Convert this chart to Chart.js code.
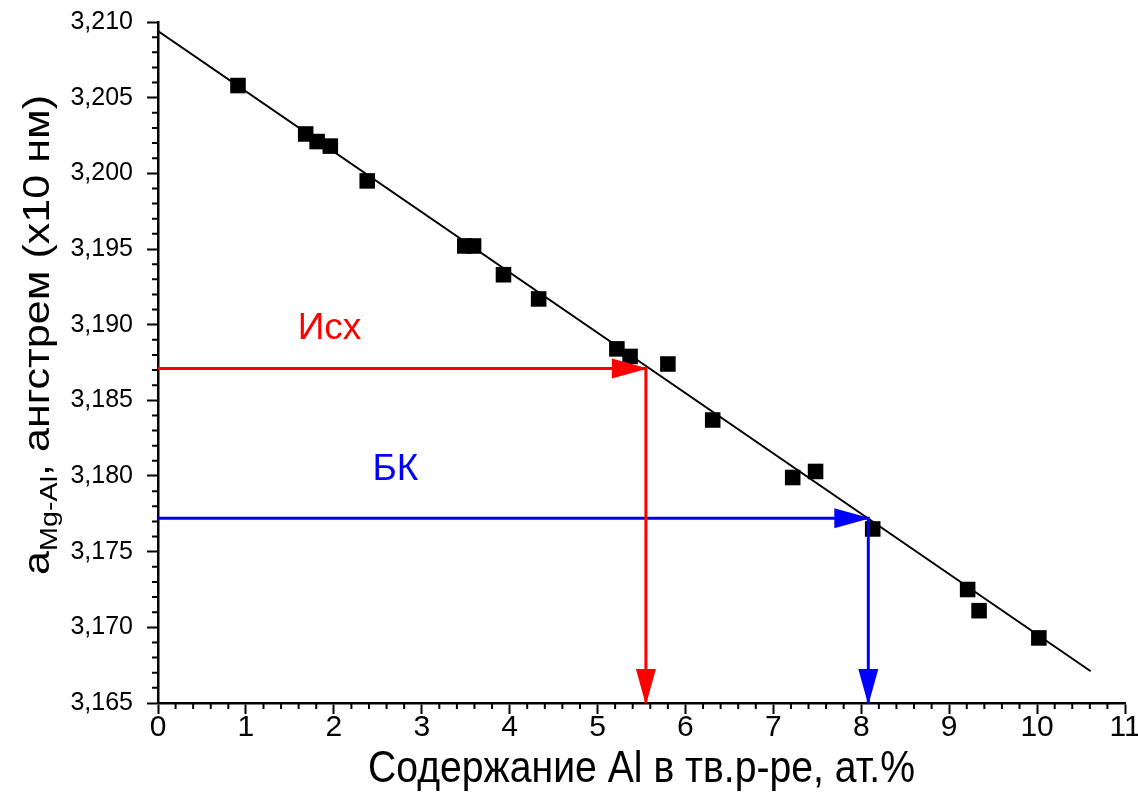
<!DOCTYPE html>
<html>
<head>
<meta charset="utf-8">
<script src="https://cdn.jsdelivr.net/npm/chart.js@4.4.1/dist/chart.umd.min.js"></script>
<style>
  html, body { margin: 0; padding: 0; background: #fff; }
  #wrap { width: 1138px; height: 809px; }
</style>
</head>
<body>
<div id="wrap"><canvas id="chart"></canvas></div>
<script>
// measured points: Al content in solid solution (at.%) and lattice parameter a
const alContent = [0.91, 1.68, 1.81, 1.96, 2.38, 3.49, 3.59, 3.93, 4.33, 5.22, 5.37, 5.80, 6.31, 7.22, 7.48, 8.13, 9.21, 9.34, 10.02];
const latticeA = [3.2058, 3.2026, 3.2021, 3.2018, 3.1995, 3.1952, 3.1952, 3.1933, 3.1917, 3.1884, 3.1879, 3.1874, 3.1837, 3.1799, 3.1803, 3.1765, 3.1725, 3.1711, 3.1693];

// linear fit, end points
const fitX = [0, 10.61];
const fitY = [3.2094, 3.1671];

// reading arrows (Исх = initial, БК = after treatment)
const ishX = [0, 5.55, 5.55];
const ishY = [3.1871, 3.1871, 3.165];
const bkX = [0, 8.08, 8.08];
const bkY = [3.1772, 3.1772, 3.165];

// tick labels
const xTicks = [0, 1, 2, 3, 4, 5, 6, 7, 8, 9, 10, 11];
const yTicks = [3.165, 3.170, 3.175, 3.180, 3.185, 3.190, 3.195, 3.200, 3.205, 3.210];
const xMinorStep = 0.2;
const yMinorStep = 0.001;

// text labels next to the arrows
const ishLabel = { text: "Исх", x: 1.95, y: 3.1897 };
const bkLabel = { text: "БК", x: 2.70, y: 3.1804 };
const xTitle = "Содержание Al в тв.р-ре, ат.%";

const toPoints = (xs, ys) => xs.map((x, i) => ({ x: x, y: ys[i] }));

// minor ticks, drawn outside the axes like major ones
const minorTicks = {
  id: "minorTicks",
  afterDraw(chart) {
    const ctx = chart.ctx;
    const xs = chart.scales.x;
    const ys = chart.scales.y;
    ctx.save();
    ctx.strokeStyle = "#000";
    ctx.lineWidth = 2;
    ctx.beginPath();
    const nx = Math.round((xs.max - xs.min) / xMinorStep);
    for (let i = 1; i < nx; i++) {
      if (i % 5 === 0) continue;
      const px = xs.getPixelForValue(xs.min + i * xMinorStep);
      ctx.moveTo(px, xs.top);
      ctx.lineTo(px, xs.top + 6);
    }
    const ny = Math.round((ys.max - ys.min) / yMinorStep);
    for (let i = 1; i < ny; i++) {
      if (i % 5 === 0) continue;
      const py = ys.getPixelForValue(ys.min + i * yMinorStep);
      ctx.moveTo(ys.right, py);
      ctx.lineTo(ys.right - 6, py);
    }
    ctx.stroke();
    ctx.restore();
  },
};

// arrow heads at the end of every segment of the arrow datasets
const arrowHeads = {
  id: "arrowHeads",
  afterDatasetsDraw(chart) {
    const ctx = chart.ctx;
    chart.data.datasets.forEach((ds, di) => {
      if (!ds.arrow) return;
      const pts = chart.getDatasetMeta(di).data;
      for (let i = 1; i < pts.length; i++) {
        const a = pts[i - 1];
        const b = pts[i];
        const ang = Math.atan2(b.y - a.y, b.x - a.x);
        ctx.save();
        ctx.translate(b.x, b.y);
        ctx.rotate(ang);
        ctx.fillStyle = ds.borderColor;
        ctx.beginPath();
        ctx.moveTo(2, 0);
        ctx.lineTo(-34, -10);
        ctx.lineTo(-34, 10);
        ctx.closePath();
        ctx.fill();
        ctx.restore();
      }
    });
  },
};

// "Исх" / "БК" labels and the axis titles (slightly condensed like the original)
const texts = {
  id: "texts",
  afterDraw(chart) {
    const ctx = chart.ctx;
    const xs = chart.scales.x;
    const ys = chart.scales.y;
    ctx.save();
    ctx.font = "37px 'Liberation Sans', Arial, sans-serif";
    ctx.textAlign = "center";
    ctx.textBaseline = "middle";
    ctx.fillStyle = "#ff0000";
    ctx.fillText(ishLabel.text, xs.getPixelForValue(ishLabel.x), ys.getPixelForValue(ishLabel.y));
    ctx.fillStyle = "#0000ff";
    ctx.fillText(bkLabel.text, xs.getPixelForValue(bkLabel.x), ys.getPixelForValue(bkLabel.y));
    ctx.restore();

    // x title
    ctx.save();
    ctx.font = "44px 'Liberation Sans', Arial, sans-serif";
    const tw = ctx.measureText(xTitle).width;
    ctx.translate((xs.left + xs.right) / 2, 782);
    ctx.scale(547 / tw, 1);
    ctx.fillStyle = "#000";
    ctx.textAlign = "center";
    ctx.textBaseline = "alphabetic";
    ctx.fillText(xTitle, 0, 0);
    ctx.restore();

    // y title: a_{Mg-Al}, ангстрем (х10 нм)
    const big = "36px 'Liberation Sans', Arial, sans-serif";
    const small = "24px 'Liberation Sans', Arial, sans-serif";
    const parts = [
      { t: "a", f: big, dy: 0 },
      { t: "Mg-Al", f: small, dy: 8 },
      { t: ", ангстрем (х10 нм)", f: big, dy: 0 },
    ];
    let w = 0;
    parts.forEach((p) => { ctx.font = p.f; p.w = ctx.measureText(p.t).width; w += p.w; });
    const stretch = 480 / w;
    ctx.save();
    ctx.translate(49, 335);
    ctx.rotate(-Math.PI / 2);
    ctx.scale(stretch, 1);
    ctx.fillStyle = "#000";
    ctx.textBaseline = "alphabetic";
    ctx.textAlign = "left";
    let x = -w / 2;
    parts.forEach((p) => { ctx.font = p.f; ctx.fillText(p.t, x, p.dy); x += p.w; });
    ctx.restore();
  },
};

new Chart(document.getElementById("chart"), {
  data: {
    datasets: [
      {
        type: "line",
        label: "Исх",
        data: toPoints(ishX, ishY),
        borderColor: "#ff0000",
        borderWidth: 3,
        pointRadius: 0,
        arrow: true,
        order: 0,
      },
      {
        type: "line",
        label: "БК",
        data: toPoints(bkX, bkY),
        borderColor: "#0000ff",
        borderWidth: 3,
        pointRadius: 0,
        arrow: true,
        order: 0,
      },
      {
        type: "scatter",
        label: "a",
        data: toPoints(alContent, latticeA),
        pointStyle: "rect",
        pointRadius: 11,
        backgroundColor: "#000",
        borderColor: "#000",
        borderWidth: 0,
        order: 1,
      },
      {
        type: "line",
        label: "fit",
        data: toPoints(fitX, fitY),
        borderColor: "#000",
        borderWidth: 2,
        pointRadius: 0,
        order: 2,
      },
    ],
  },
  options: {
    responsive: true,
    maintainAspectRatio: false,
    animation: false,
    layout: { padding: { top: 22, right: 13, left: 0, bottom: 0 } },
    plugins: { legend: { display: false }, tooltip: { enabled: false } },
    scales: {
      x: {
        type: "linear",
        min: 0,
        max: 11,
        afterBuildTicks: (scale) => { scale.ticks = xTicks.map((v) => ({ value: v })); },
        afterFit: (scale) => { scale.height = 106; },
        grid: { drawOnChartArea: false, tickLength: 11, tickWidth: 2, tickColor: "#000" },
        border: { color: "#000", width: 2.5 },
        ticks: {
          color: "#000",
          padding: -4,
          maxRotation: 0,
          font: { family: "'Liberation Sans', Arial", size: 30 },
        },
      },
      y: {
        type: "linear",
        min: 3.165,
        max: 3.21,
        afterBuildTicks: (scale) => { scale.ticks = yTicks.map((v) => ({ value: v })); },
        afterFit: (scale) => {
          scale.width = 158;
          scale.paddingTop = 0;
        },
        grid: { drawOnChartArea: false, tickLength: 11, tickWidth: 2, tickColor: "#000" },
        border: { color: "#000", width: 2.5 },
        ticks: {
          color: "#000",
          padding: 14,
          font: { family: "'Liberation Sans', Arial", size: 25 },
          callback: (v) => Number(v).toFixed(3).replace(".", ","),
        },
      },
    },
  },
  plugins: [minorTicks, arrowHeads, texts],
});
</script>
</body>
</html>
